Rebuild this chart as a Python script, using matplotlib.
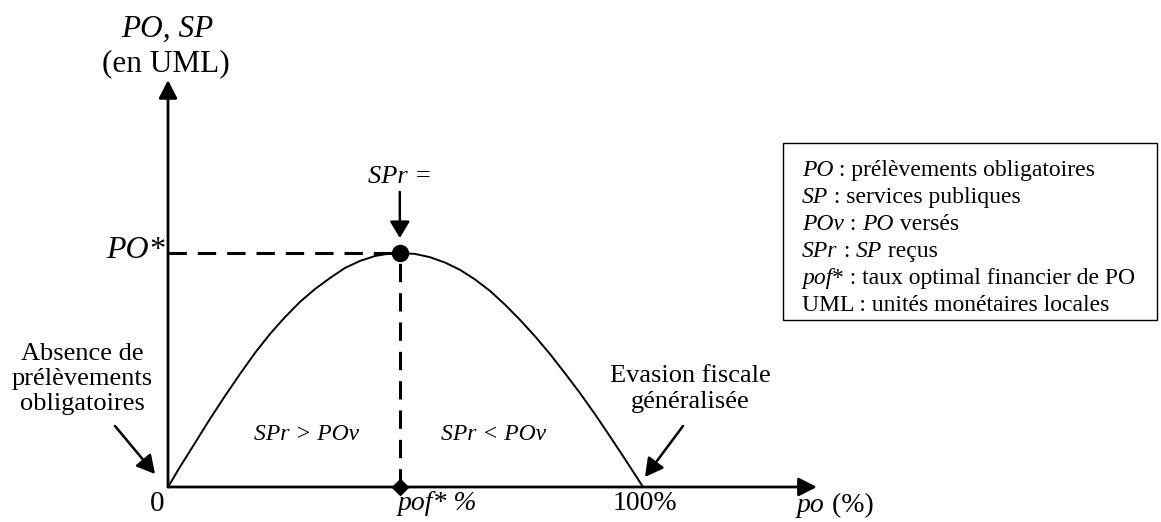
import matplotlib
matplotlib.use("Agg")
import matplotlib.pyplot as plt
from matplotlib.patches import Rectangle

plt.rcParams['font.family'] = ['Liberation Serif', 'DejaVu Serif']

po_pct = [0, 2.53, 5.68, 8.84, 12.0, 15.16, 18.32, 21.47, 24.63, 27.79, 30.95,
          34.11, 37.26, 40.42, 43.58, 46.74, 48.8, 52.0, 55.16, 58.32, 61.47,
          64.63, 67.79, 70.95, 74.11, 77.26, 80.42, 83.58, 86.74, 89.89, 93.05,
          96.21, 99.37, 100]
sp_val = [0, 0.086, 0.188, 0.291, 0.389, 0.483, 0.573, 0.654, 0.726, 0.791,
          0.846, 0.893, 0.936, 0.966, 0.987, 0.998, 1.0, 0.996, 0.982, 0.959,
          0.928, 0.887, 0.838, 0.779, 0.714, 0.644, 0.568, 0.486, 0.401, 0.311,
          0.216, 0.119, 0.020, 0]

pof_star = 48.8   # taux optimal
po_star = 1.0     # PO*
x_tip = 136.6     # end of the po axis
y_tip = 1.739     # end of the PO, SP axis

# legend lines, (text, italic?)
legend_lines = [
    [("PO", True), (" : prélèvements obligatoires", False)],
    [("SP", True), (" : services publiques", False)],
    [("POv", True), (" : ", False), ("PO", True), (" versés", False)],
    [("SPr", True), (" : ", False), ("SP", True), (" reçus", False)],
    [("pof", True), ("* : taux optimal financier de PO", False)],
    [("UML : unités monétaires locales", False)],
]

W, H = 1161, 522
fig = plt.figure(figsize=(W / 100, H / 100), dpi=100)
ax = fig.add_axes([0, 0, 1, 1])
ax.set_xlim(-35.37, 209.05)
ax.set_ylim(-0.1496, 2.081)
ax.axis('off')


def fp(x, y):
    # pixel position (from top left) -> figure fraction
    return x / W, 1 - y / H


def arrow(xy, xytext, coords='data', lw=2.0, hl=0.55, hw=0.28, ms=20):
    ax.annotate('', xy=xy, xytext=xytext, xycoords=coords, textcoords=coords,
                arrowprops=dict(arrowstyle='-|>,head_length=%s,head_width=%s' % (hl, hw),
                                lw=lw, color='black', shrinkA=0, shrinkB=0,
                                mutation_scale=ms))


# axes with arrows
arrow((0, y_tip), (0, 0))
arrow((x_tip, 0), (0, 0))

# the curve
ax.plot(po_pct, sp_val, color='black', lw=1.4, solid_joinstyle='round')

# dashed guides
ax.plot([0, pof_star], [po_star, po_star], color='black', lw=2.2, ls=(0, (6, 3.6)))
ax.plot([pof_star, pof_star], [0, po_star], color='black', lw=2.2, ls=(0, (6, 3.6)))
ax.plot(pof_star, po_star, 'o', color='black', ms=11.5)
ax.plot(pof_star, 0, 'D', color='black', ms=8)

# SPr = arrow
ax.text(pof_star, 1.325, "SPr =", style='italic', fontsize=19, ha='center', va='center')
arrow((pof_star, 1.064), (pof_star, 1.261), lw=1.8, hl=0.5, hw=0.3)

# axis texts
fig.text(*fp(167, 29), "PO, SP", style='italic', fontsize=22.5, ha='center', va='center')
fig.text(*fp(166, 64), "(en UML)", fontsize=22.5, ha='center', va='center')
fig.text(*fp(165, 250), "PO*", style='italic', fontsize=23, ha='right', va='center')
fig.text(*fp(157, 504), "0", fontsize=21, ha='center', va='center')
fig.text(*fp(437, 504), "pof* %", style='italic', fontsize=20, ha='center', va='center')
fig.text(*fp(645, 504), "100%", fontsize=20, ha='center', va='center')
t = fig.text(*fp(797, 512), "po", style='italic', fontsize=20, ha='left', va='baseline')
fig.canvas.draw()
r = fig.canvas.get_renderer()
bb = t.get_window_extent(r)
fig.text(bb.x1 / W, 1 - 512 / H, " (%)", fontsize=20, ha='left', va='baseline')

# region texts
fig.text(*fp(307, 434), "SPr > POv", style='italic', fontsize=17, ha='center', va='center')
fig.text(*fp(494, 434), "SPr < POv", style='italic', fontsize=17, ha='center', va='center')

# annotations at both ends
fig.text(*fp(82, 379), "Absence de\nprélèvements\nobligatoires", fontsize=19,
         ha='center', va='center', linespacing=1.15)
arrow(fp(155, 474), fp(115, 426), coords='figure fraction', lw=1.8, hl=0.55, hw=0.3)
fig.text(*fp(690, 389), "Evasion fiscale\ngénéralisée", fontsize=19,
         ha='center', va='center', linespacing=1.2)
arrow(fp(645, 477), fp(683, 426), coords='figure fraction', lw=1.8, hl=0.55, hw=0.3)

# legend box
x0, y0, x1, y1 = 783, 143, 1157, 320
fig.patches.append(Rectangle(fp(x0, y1), (x1 - x0) / W, (y1 - y0) / H, transform=fig.transFigure,
                             fill=False, edgecolor='black', lw=1.0))
for i, parts in enumerate(legend_lines):
    x = 802
    y = 176 + 27 * i
    for s, ital in parts:
        tt = fig.text(x / W, 1 - y / H, s, style='italic' if ital else 'normal',
                      fontsize=17, ha='left', va='baseline')
        x = x + tt.get_window_extent(r).width

fig.savefig("out.png", dpi=100)
